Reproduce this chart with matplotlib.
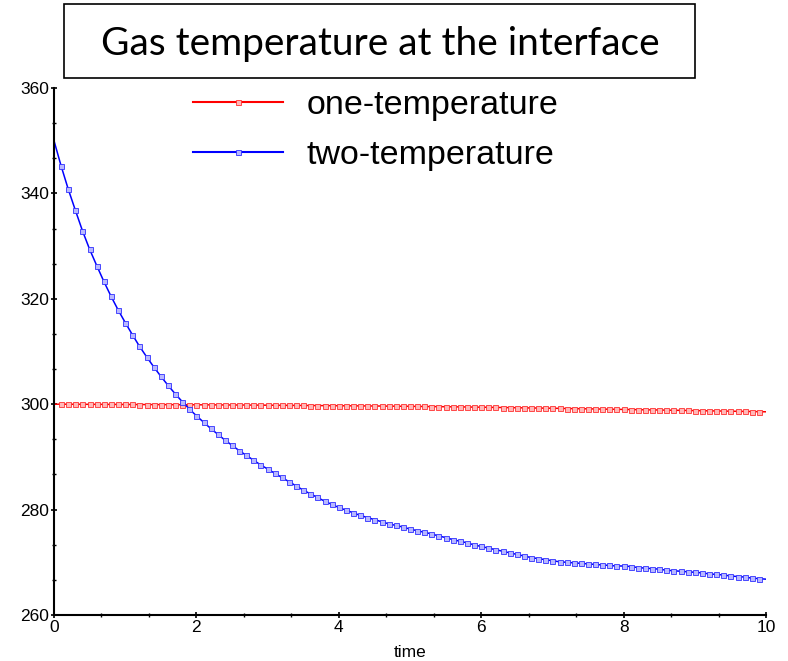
import matplotlib
matplotlib.use("Agg")
import matplotlib.pyplot as plt
import numpy as np
from matplotlib.ticker import AutoMinorLocator
from matplotlib.patches import Rectangle

# time axis, one sample every 0.1
time = np.round(np.arange(0, 101) * 0.1, 1)

# gas temperature at the interface, one-temperature model
one_temp = [
    300.00, 300.00, 299.99, 299.99, 299.98, 299.98, 299.97, 299.97, 299.96, 299.96,
    299.95, 299.95, 299.94, 299.93, 299.93, 299.92, 299.92, 299.91, 299.90, 299.90,
    299.89, 299.88, 299.88, 299.87, 299.86, 299.85, 299.85, 299.84, 299.83, 299.82,
    299.81, 299.80, 299.79, 299.78, 299.77, 299.76, 299.75, 299.74, 299.73, 299.72,
    299.71, 299.70, 299.69, 299.68, 299.67, 299.66, 299.65, 299.63, 299.62, 299.61,
    299.60, 299.58, 299.57, 299.55, 299.54, 299.52, 299.50, 299.49, 299.47, 299.45,
    299.43, 299.41, 299.39, 299.37, 299.35, 299.33, 299.31, 299.29, 299.27, 299.25,
    299.23, 299.21, 299.18, 299.16, 299.14, 299.12, 299.10, 299.07, 299.05, 299.03,
    299.01, 298.99, 298.96, 298.94, 298.92, 298.90, 298.87, 298.85, 298.83, 298.81,
    298.79, 298.76, 298.74, 298.72, 298.70, 298.67, 298.65, 298.63, 298.61, 298.58,
    298.56,
]

# gas temperature at the interface, two-temperature model
two_temp = [
    350.0, 345.2, 340.8, 336.8, 332.9, 329.4, 326.3, 323.3, 320.5, 317.9,
    315.5, 313.2, 311.0, 309.0, 307.1, 305.3, 303.6, 302.0, 300.5, 299.1,
    297.8, 296.6, 295.4, 294.3, 293.2, 292.2, 291.2, 290.3, 289.4, 288.5,
    287.7, 286.9, 286.1, 285.3, 284.5, 283.7, 283.0, 282.3, 281.6, 281.0,
    280.4, 279.9, 279.4, 278.9, 278.5, 278.1, 277.7, 277.3, 277.0, 276.7,
    276.3, 276.0, 275.7, 275.4, 275.0, 274.7, 274.3, 274.0, 273.7, 273.3,
    273.0, 272.7, 272.4, 272.1, 271.8, 271.5, 271.2, 270.9, 270.7, 270.5,
    270.3, 270.1, 270.0, 269.9, 269.8, 269.7, 269.6, 269.5, 269.4, 269.3,
    269.3, 269.2, 269.0, 268.9, 268.8, 268.7, 268.5, 268.4, 268.3, 268.2,
    268.1, 268.0, 267.8, 267.7, 267.6, 267.4, 267.3, 267.2, 267.0, 266.9,
    266.8,
]

labels = ["one-temperature", "two-temperature"]
title = "Gas temperature at the interface"

plt.rcParams['font.family'] = ['Liberation Sans', 'DejaVu Sans']

fig = plt.figure(figsize=(7.88, 6.61), dpi=100)
ax = fig.add_axes([54 / 788, 1 - 615 / 661, (766 - 54) / 788, (615 - 88) / 661])

mk = dict(marker='s', markersize=3.6, markeredgewidth=0.6, markevery=slice(1, -1))
ax.plot(time, one_temp, color='#ff0000', lw=1.1, mfc='#ffb8b8', mec='#ff3030',
        label=labels[0], **mk)
ax.plot(time, two_temp, color='#0000ff', lw=1.1, mfc='#b8b8ff', mec='#3030ff',
        label=labels[1], **mk)

ax.set_xlim(0, 10)
ax.set_ylim(260, 360)
ax.set_xticks([0, 2, 4, 6, 8, 10])
ax.set_yticks([260, 280, 300, 320, 340, 360])
ax.xaxis.set_minor_locator(AutoMinorLocator(3))
ax.yaxis.set_minor_locator(AutoMinorLocator(3))
ax.tick_params(which='major', direction='inout', length=5, width=1.2,
               labelsize=12.5, pad=1)
ax.tick_params(which='minor', direction='inout', length=3, width=1.0)
for s in ['top', 'right']:
    ax.spines[s].set_visible(False)
for s in ['left', 'bottom']:
    ax.spines[s].set_linewidth(1.5)
ax.set_xlabel("time", fontsize=12.5, labelpad=7)

leg = ax.legend(loc='upper left', bbox_to_anchor=(193 / 788, 1 - 90 / 661),
                bbox_transform=fig.transFigure, frameon=False, fontsize=24.5,
                handlelength=2.65, handletextpad=0.7, labelspacing=0.55,
                borderpad=0, borderaxespad=0)
for line in leg.get_lines():
    line.set_markevery([1])
    line.set_linewidth(1.5)

# boxed title above the plot
fig.patches.append(Rectangle((64 / 788, 1 - 78 / 661), (695 - 64) / 788, 74 / 661,
                             transform=fig.transFigure, fill=False,
                             edgecolor='black', linewidth=1.2))
fig.text(380 / 788, 1 - 44 / 661, title, ha='center', va='center',
         fontsize=28, family=['Lato', 'DejaVu Sans'])

fig.savefig("out.png", dpi=100, facecolor='white')
